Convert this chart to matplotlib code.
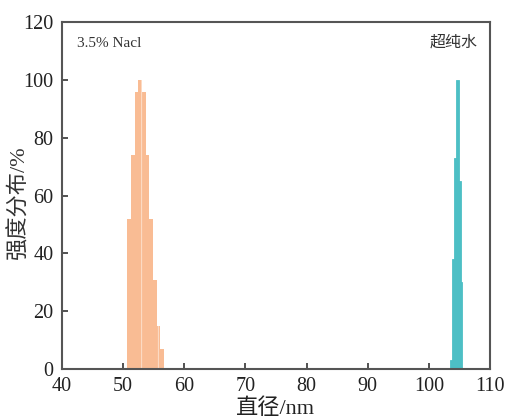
import matplotlib.pyplot as plt

plt.rcParams['font.family'] = ['Liberation Serif', 'Noto Sans CJK SC']
plt.rcParams['hatch.linewidth'] = 0.6

# 3.5% NaCl distribution
nacl_x = [51.0, 51.6, 52.2, 52.8, 53.4, 54.0, 54.6, 55.2, 55.8, 56.4]
nacl_y = [52, 74, 96, 100, 96, 74, 52, 31, 15, 7]

# ultrapure water distribution
water_x = [103.7, 104.0, 104.35, 104.7, 105.0, 105.3]
water_y = [3, 38, 73, 100, 65, 30]

xticks = [40, 50, 60, 70, 80, 90, 100, 110]
yticks = [0, 20, 40, 60, 80, 100, 120]

fig = plt.figure(figsize=(5.12, 4.19), dpi=100)
ax = fig.add_axes([0.121, 0.119, 0.836, 0.828])

ax.bar(nacl_x, nacl_y, width=0.62, color='#f9bc94', edgecolor='#fde4d3',
       hatch='|', linewidth=0)
ax.bar(water_x, water_y, width=0.36, color='#4dbfc5', edgecolor='#4dbfc5',
       linewidth=0.6)

ax.set_xlim(40, 110)
ax.set_ylim(0, 120)
ax.set_xticks(xticks)
ax.set_yticks(yticks)
ax.tick_params(direction='in', length=4, width=1.2, colors='#333333',
               labelsize=14.5, labelcolor='#222222')
ax.tick_params(axis='x', pad=6)
ax.tick_params(axis='y', pad=6)
for s in ax.spines.values():
    s.set_linewidth(1.5)
    s.set_color('#555555')

ax.set_xlabel('直径/nm', fontsize=16, labelpad=1, color='#222222')
ax.set_ylabel('强度分布/%', fontsize=16, color='#333333')
ax.yaxis.set_label_coords(-0.075, 0.48)

ax.text(0.035, 0.94, '3.5% Nacl', transform=ax.transAxes, fontsize=11,
        ha='left', va='center', color='#333333')
ax.text(0.97, 0.94, '超纯水', transform=ax.transAxes, fontsize=11.5,
        ha='right', va='center', color='#333333')

fig.savefig('out.png', dpi=100)
